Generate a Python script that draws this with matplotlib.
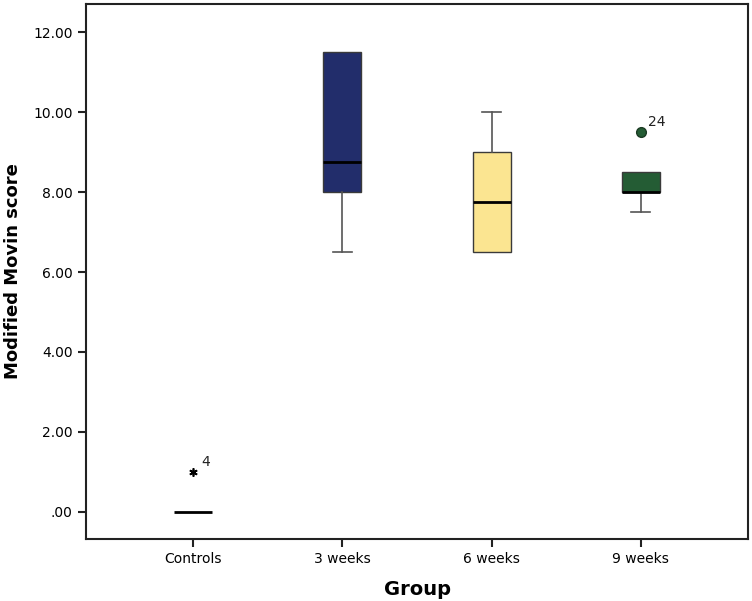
import numpy as np
from matplotlib import pyplot as plt

groups = ['Controls', '3 weeks', '6 weeks', '9 weeks']
q1 = [0, 8.0, 6.5, 8.0]
med = [0, 8.75, 7.75, 8.0]
q3 = [0, 11.5, 9.0, 8.5]
whislo = [0, 6.5, 6.5, 7.5]
whishi = [0, 11.5, 10.0, 8.5]
fliers = [[1.0], [], [], [9.5]]
flier_ids = [['4'], [], [], ['24']]
colors = ['#ffffff', '#222d6b', '#fbe591', '#245c34']

stats = []
for i in range(len(groups)):
    stats.append(dict(label=groups[i], q1=q1[i], med=med[i], q3=q3[i],
                      whislo=whislo[i], whishi=whishi[i], fliers=[]))

fig = plt.figure(figsize=(7.52, 6.01), dpi=100)
ax = fig.add_axes([0.1144, 0.1032, 0.8803, 0.8901])

pos = np.arange(1, len(groups) + 1)
bp = ax.bxp(stats, positions=pos, widths=0.255, patch_artist=True,
            boxprops=dict(edgecolor='#3a3a3a', linewidth=1.0),
            medianprops=dict(color='black', linewidth=2),
            whiskerprops=dict(color='#555555', linewidth=1.2),
            capprops=dict(color='#555555', linewidth=1.2),
            capwidths=0.13)
for i, b in enumerate(bp['boxes']):
    b.set_facecolor(colors[i])
    if q1[i] == q3[i]:
        b.set_visible(False)
# hide caps that sit on the box edge
for i in range(len(groups)):
    if whislo[i] == q1[i]:
        bp['caps'][2 * i].set_visible(False)
    if whishi[i] == q3[i]:
        bp['caps'][2 * i + 1].set_visible(False)

# outliers
for i in range(len(groups)):
    for v, lab in zip(fliers[i], flier_ids[i]):
        if i == 0:
            ax.plot(pos[i], v, marker=(6, 2, 0), color='black', markersize=6,
                    markeredgewidth=1.2, linestyle='none')
        else:
            ax.plot(pos[i], v, marker='o', markerfacecolor=colors[i],
                    markeredgecolor='#1a3a22', markersize=7, linestyle='none')
        ax.text(pos[i] + 0.05, v + 0.15, lab, fontsize=10, color='#222222')

ax.set_xlim(0.28, 4.72)
ax.set_ylim(-0.675, 12.7)
ax.set_yticks([0, 2, 4, 6, 8, 10, 12])
ax.set_yticklabels(['.00', '2.00', '4.00', '6.00', '8.00', '10.00', '12.00'])
ax.set_xticks(pos)
ax.set_xticklabels(groups)
ax.tick_params(labelsize=10, length=6, width=1.5, color='#222222')
for s in ax.spines.values():
    s.set_linewidth(1.5)
    s.set_color('#222222')

ax.set_xlabel('Group', fontsize=14, fontweight='bold', labelpad=10)
ax.set_ylabel('Modified Movin score', fontsize=13, fontweight='bold', labelpad=8)

plt.savefig('out.png', dpi=100)
